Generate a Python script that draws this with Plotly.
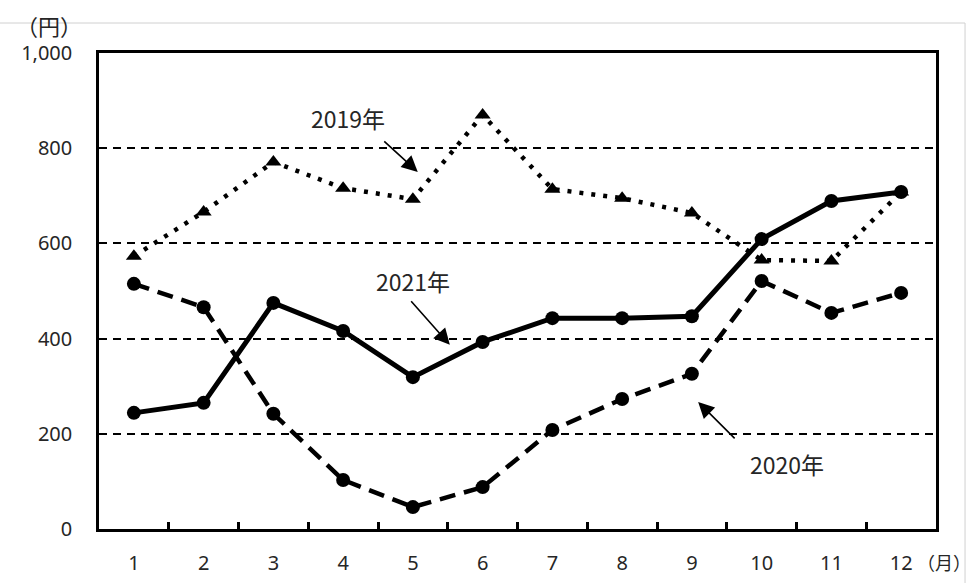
import plotly.graph_objects as go

months = ["1", "2", "3", "4", "5", "6", "7", "8", "9", "10", "11", "12"]
y2019 = [573, 666, 771, 716, 693, 870, 714, 695, 664, 565, 563, 708]
y2020 = [515, 466, 242, 103, 46, 88, 208, 273, 326, 521, 454, 496]
y2021 = [244, 265, 475, 416, 319, 393, 443, 443, 447, 609, 689, 708]
y_ticks = [0, 200, 400, 600, 800, 1000]
y_tick_text = ["0", "200", "400", "600", "800", "1,000"]

JP = "Noto Sans CJK JP"
NUM = "Noto Sans"
TXT = "#262626"

fig = go.Figure()

fig.add_trace(go.Scatter(
    x=months, y=y2019, mode="lines+markers", name="2019年",
    line=dict(color="black", width=4.5, dash="4px,8px"),
    marker=dict(symbol="triangle-up", size=14, color="black"),
))
fig.add_trace(go.Scatter(
    x=months, y=y2020, mode="lines+markers", name="2020年",
    line=dict(color="black", width=4.5, dash="16px,9px"),
    marker=dict(symbol="circle", size=14, color="black"),
))
fig.add_trace(go.Scatter(
    x=months, y=y2021, mode="lines+markers", name="2021年",
    line=dict(color="black", width=5),
    marker=dict(symbol="circle", size=14, color="black"),
))

fig.update_layout(
    width=970, height=583,
    margin=dict(l=99, r=34, t=53, b=54),
    paper_bgcolor="white", plot_bgcolor="white",
    showlegend=False,
    font=dict(family=NUM, size=20, color=TXT),
)

fig.update_xaxes(
    type="category", tickson="boundaries", automargin=False,
    ticks="inside", ticklen=7, tickwidth=2.5, tickcolor="black",
    showline=True, linecolor="black", linewidth=2.5, mirror=True,
    showgrid=False, range=[-0.5, 11.5],
    ticklabelstandoff=14,
    tickfont=dict(family=NUM, size=20, color=TXT),
)
fig.update_yaxes(
    range=[0, 1000], tickvals=y_ticks, ticktext=y_tick_text, automargin=False,
    ticks="", showline=True, linecolor="black", linewidth=2.5, mirror=True,
    showgrid=True, gridcolor="black", gridwidth=2, griddash="8px,6px",
    zeroline=False, ticklabelstandoff=20,
    tickfont=dict(family=NUM, size=20, color=TXT),
)

# unit labels
fig.add_annotation(xref="paper", yref="paper", x=-0.0597, y=1.0588,
                   text="（円）", showarrow=False, xanchor="center", yanchor="middle",
                   font=dict(family=JP, size=22, color=TXT))
fig.add_annotation(xref="paper", yref="paper", x=0.9749, y=-0.069,
                   text="（月）", showarrow=False, xanchor="left", yanchor="middle",
                   font=dict(family=JP, size=18, color=TXT))

# series labels
for txt, xi, yv in [("2019年", 3.07, 863), ("2021年", 4.0, 521), ("2020年", 9.36, 136)]:
    fig.add_annotation(x=xi, y=yv, text=txt, showarrow=False,
                       font=dict(family=JP, size=23, color=TXT))

# pointer arrows
for xi, yv, ax, ay in [(4.07, 750, -35, -32), (4.53, 387, -40, -45), (8.09, 267, 38, 38)]:
    fig.add_annotation(x=xi, y=yv, text="", showarrow=True, ax=ax, ay=ay,
                       arrowhead=2, arrowsize=2, arrowwidth=1.6, arrowcolor="black")

# chart-area frame
fig.add_shape(type="line", xref="paper", yref="paper", x0=-0.12, x1=1.0347, y0=1.063, y1=1.063,
              line=dict(color="#d0d0d0", width=1))
fig.add_shape(type="line", xref="paper", yref="paper", x0=1.0347, x1=1.0347, y0=1.063, y1=-0.2,
              line=dict(color="#d0d0d0", width=1))

fig.write_html("out.html")
